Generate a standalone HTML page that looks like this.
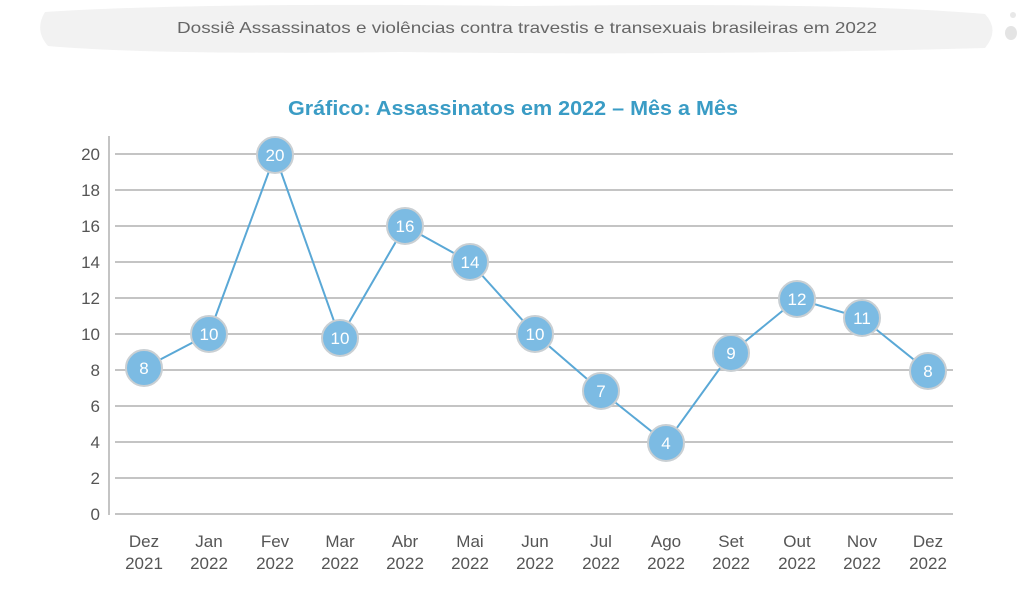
<!DOCTYPE html>
<html><head><meta charset="utf-8"><style>
html,body{margin:0;padding:0;background:#fff;width:1024px;height:597px;overflow:hidden}
svg{display:block}
</style></head><body>
<svg width="1024" height="597" viewBox="0 0 1024 597" xmlns="http://www.w3.org/2000/svg" font-family="Liberation Sans, sans-serif">
<path d="M45 12 Q200 2 520 6 Q850 2 985 14 Q1000 30 985 48 Q700 56 400 52 Q150 55 48 46 Q34 30 45 12Z" fill="#f2f2f2"/>
<ellipse cx="1011" cy="33" rx="6" ry="7" fill="#e4e4e4"/>
<circle cx="1013" cy="15" r="3" fill="#e8e8e8"/>
<text x="177" y="33" font-size="16" fill="#666" textLength="700" lengthAdjust="spacingAndGlyphs">Dossiê Assassinatos e violências contra travestis e transexuais brasileiras em 2022</text>
<text x="288" y="115" font-size="20" font-weight="bold" fill="#3a9cc5" textLength="450" lengthAdjust="spacingAndGlyphs">Gráfico: Assassinatos em 2022 – Mês a Mês</text>
<g stroke="#c4c4c4" stroke-width="2">
<line x1="109" y1="136" x2="109" y2="515"/>
<line x1="115" y1="154" x2="953" y2="154"/><line x1="115" y1="190" x2="953" y2="190"/>
<line x1="115" y1="226" x2="953" y2="226"/><line x1="115" y1="262" x2="953" y2="262"/>
<line x1="115" y1="298" x2="953" y2="298"/><line x1="115" y1="334" x2="953" y2="334"/>
<line x1="115" y1="370" x2="953" y2="370"/><line x1="115" y1="406" x2="953" y2="406"/>
<line x1="115" y1="442" x2="953" y2="442"/><line x1="115" y1="478" x2="953" y2="478"/>
<line x1="115" y1="514" x2="953" y2="514"/>
</g>
<g font-size="17" fill="#555" text-anchor="end">
<text x="100" y="160">20</text><text x="100" y="196">18</text><text x="100" y="232">16</text>
<text x="100" y="268">14</text><text x="100" y="304">12</text><text x="100" y="340">10</text>
<text x="100" y="376">8</text><text x="100" y="412">6</text><text x="100" y="448">4</text>
<text x="100" y="484">2</text><text x="100" y="520">0</text>
</g>
<polyline fill="none" stroke="#5aa8d6" stroke-width="2" points="144,368 209,334 275,155 340,338 405,226 470,262 535,334 601,391 666,443 731,353 797,299 862,318 928,371"/>
<g fill="#7cbbe3" stroke="#c9cfd3" stroke-width="2">
<circle cx="144" cy="368" r="18"/><circle cx="209" cy="334" r="18"/><circle cx="275" cy="155" r="18"/>
<circle cx="340" cy="338" r="18"/><circle cx="405" cy="226" r="18"/><circle cx="470" cy="262" r="18"/>
<circle cx="535" cy="334" r="18"/><circle cx="601" cy="391" r="18"/><circle cx="666" cy="443" r="18"/>
<circle cx="731" cy="353" r="18"/><circle cx="797" cy="299" r="18"/><circle cx="862" cy="318" r="18"/>
<circle cx="928" cy="371" r="18"/>
</g>
<g font-size="17" fill="#fff" text-anchor="middle">
<text x="144" y="374">8</text><text x="209" y="340">10</text><text x="275" y="161">20</text>
<text x="340" y="344">10</text><text x="405" y="232">16</text><text x="470" y="268">14</text>
<text x="535" y="340">10</text><text x="601" y="397">7</text><text x="666" y="449">4</text>
<text x="731" y="359">9</text><text x="797" y="305">12</text><text x="862" y="324">11</text>
<text x="928" y="377">8</text>
</g>
<g font-size="17" fill="#555" text-anchor="middle">
<text x="144" y="547">Dez</text><text x="144" y="569">2021</text>
<text x="209" y="547">Jan</text><text x="209" y="569">2022</text>
<text x="275" y="547">Fev</text><text x="275" y="569">2022</text>
<text x="340" y="547">Mar</text><text x="340" y="569">2022</text>
<text x="405" y="547">Abr</text><text x="405" y="569">2022</text>
<text x="470" y="547">Mai</text><text x="470" y="569">2022</text>
<text x="535" y="547">Jun</text><text x="535" y="569">2022</text>
<text x="601" y="547">Jul</text><text x="601" y="569">2022</text>
<text x="666" y="547">Ago</text><text x="666" y="569">2022</text>
<text x="731" y="547">Set</text><text x="731" y="569">2022</text>
<text x="797" y="547">Out</text><text x="797" y="569">2022</text>
<text x="862" y="547">Nov</text><text x="862" y="569">2022</text>
<text x="928" y="547">Dez</text><text x="928" y="569">2022</text>
</g>
</svg>
</body></html>
